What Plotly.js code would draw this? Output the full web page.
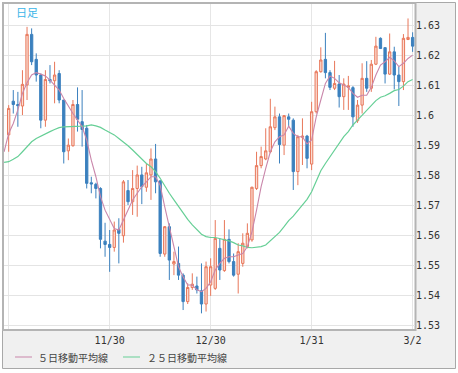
<!DOCTYPE html>
<html>
<head>
<meta charset="utf-8">
<script src="https://cdn.plot.ly/plotly-3.0.1.min.js"></script>
<style>html,body{margin:0;padding:0;background:#fff;}#chart{width:458px;height:373px;}</style>
</head>
<body>
<div id="chart"></div>
<script>
// Daily candles (trading-day index 0 = 10/31 ... 88 = 3/2)
const openP = [1.5935,1.6047,1.6036,1.6031,1.6101,1.6269,1.6186,1.6134,1.5984,1.6119,
1.6115,1.6139,1.6051,1.5882,1.5899,1.6036,1.5979,1.5957,1.5776,1.5771,
1.5757,1.5582,1.5571,1.5561,1.5621,1.5600,1.5750,1.5713,1.5757,1.5802,
1.5761,1.5802,1.5855,1.5782,1.5539,1.5630,1.5506,1.5508,1.5469,1.5381,
1.5428,1.5433,1.5417,1.5373,1.5436,1.5425,1.5558,1.5484,1.5588,1.5514,
1.5472,1.5508,1.5564,1.5586,1.5757,1.5833,1.5855,1.5879,1.5959,1.5995,
1.5901,1.5995,1.5984,1.5813,1.5927,1.5931,1.5838,1.6012,1.6145,1.6186,
1.6142,1.6090,1.6104,1.6062,1.6093,1.6092,1.5982,1.6034,1.6123,1.6090,
1.6170,1.6256,1.6225,1.6137,1.6211,1.6134,1.6112,1.6252,1.6259];
const highP = [1.6034,1.6084,1.6078,1.6150,1.6294,1.6289,1.6206,1.6139,1.6150,1.6167,
1.6178,1.6150,1.6051,1.5923,1.6051,1.6093,1.6084,1.5968,1.5796,1.5776,
1.5761,1.5643,1.5619,1.5647,1.5658,1.5785,1.5785,1.5818,1.5833,1.5829,
1.5840,1.5890,1.5905,1.5785,1.5632,1.5641,1.5547,1.5564,1.5475,1.5442,
1.5475,1.5464,1.5508,1.5514,1.5525,1.5652,1.5591,1.5652,1.5621,1.5541,
1.5575,1.5608,1.5641,1.5763,1.5879,1.5896,1.5957,1.6055,1.6029,1.6006,
1.6001,1.6006,1.5990,1.5935,1.5990,1.5935,1.6045,1.6150,1.6226,1.6274,
1.6150,1.6181,1.6134,1.6123,1.6131,1.6097,1.6051,1.6173,1.6180,1.6184,
1.6261,1.6259,1.6225,1.6272,1.6228,1.6162,1.6270,1.6322,1.6276];
const lowP = [1.5879,1.6006,1.5962,1.6001,1.6051,1.6167,1.6112,1.5957,1.5962,1.6106,
1.6040,1.6040,1.5840,1.5851,1.5896,1.5946,1.5896,1.5757,1.5741,1.5724,
1.5558,1.5530,1.5480,1.5547,1.5508,1.5577,1.5702,1.5669,1.5663,1.5705,
1.5746,1.5719,1.5741,1.5530,1.5530,1.5453,1.5469,1.5453,1.5353,1.5373,
1.5420,1.5408,1.5342,1.5348,1.5400,1.5420,1.5453,1.5480,1.5508,1.5464,
1.5408,1.5497,1.5558,1.5580,1.5752,1.5824,1.5851,1.5874,1.5951,1.5840,
1.5868,1.5962,1.5752,1.5768,1.5835,1.5824,1.5818,1.6006,1.6142,1.6123,
1.6084,1.6084,1.6026,1.6018,1.6018,1.5962,1.5975,1.6006,1.6078,1.6078,
1.6167,1.6222,1.6106,1.6134,1.6086,1.6031,1.6084,1.6250,1.6211];
const closeP = [1.6023,1.6036,1.6032,1.6103,1.6269,1.6178,1.6134,1.5984,1.6119,1.6115,
1.6134,1.6051,1.5879,1.5901,1.6036,1.5987,1.5953,1.5774,1.5772,1.5757,
1.5588,1.5571,1.5561,1.5619,1.5608,1.5779,1.5713,1.5757,1.5802,1.5763,
1.5809,1.5855,1.5779,1.5541,1.5630,1.5519,1.5514,1.5469,1.5381,1.5428,
1.5439,1.5420,1.5373,1.5497,1.5497,1.5591,1.5486,1.5588,1.5514,1.5469,
1.5547,1.5575,1.5608,1.5761,1.5833,1.5863,1.5882,1.5962,1.5995,1.5903,
1.5999,1.5987,1.5813,1.5929,1.5931,1.5857,1.6012,1.6145,1.6184,1.6142,
1.6093,1.6106,1.6062,1.6104,1.6098,1.5995,1.6034,1.6123,1.6090,1.6170,
1.6230,1.6222,1.6137,1.6211,1.6134,1.6112,1.6256,1.6259,1.6230];

// Moving averages (index -1 ... 88)
const ma5 = [1.5879,1.5940,1.5973,1.6018,1.6073,1.6108,1.6134,1.6142,1.6137,1.6131,1.6117,
1.6101,1.6084,1.6056,1.6029,1.6006,1.5984,1.5962,1.5918,1.5851,1.5796,
1.5730,1.5685,1.5652,1.5624,1.5619,1.5652,1.5685,1.5719,1.5741,1.5763,
1.5779,1.5796,1.5796,1.5768,1.5696,1.5630,1.5564,1.5497,1.5464,1.5436,
1.5436,1.5420,1.5414,1.5425,1.5447,1.5486,1.5508,1.5525,1.5530,1.5530,
1.5536,1.5541,1.5564,1.5613,1.5685,1.5763,1.5824,1.5879,1.5912,1.5929,
1.5935,1.5964,1.5940,1.5929,1.5929,1.5905,1.5918,1.5995,1.6051,1.6106,
1.6131,1.6123,1.6108,1.6101,1.6093,1.6073,1.6060,1.6067,1.6067,1.6093,
1.6134,1.6167,1.6178,1.6193,1.6181,1.6162,1.6173,1.6189,1.6200];
const ma25 = [1.5844,1.5846,1.5854,1.5863,1.5879,1.5896,1.5912,1.5923,1.5931,1.5940,1.5946,
1.5953,1.5959,1.5962,1.5962,1.5964,1.5964,1.5964,1.5965,1.5968,1.5965,
1.5960,1.5951,1.5942,1.5935,1.5923,1.5912,1.5899,1.5885,1.5869,1.5856,
1.5840,1.5829,1.5813,1.5791,1.5765,1.5741,1.5719,1.5696,1.5674,1.5654,
1.5636,1.5619,1.5605,1.5597,1.5594,1.5594,1.5591,1.5588,1.5583,1.5577,
1.5569,1.5566,1.5561,1.5560,1.5562,1.5564,1.5569,1.5583,1.5597,1.5611,
1.5630,1.5650,1.5665,1.5685,1.5705,1.5721,1.5746,1.5779,1.5816,1.5840,
1.5863,1.5885,1.5907,1.5929,1.5946,1.5968,1.5984,1.6001,1.6018,1.6034,
1.6049,1.6060,1.6065,1.6073,1.6082,1.6086,1.6097,1.6112,1.6119];

const xTickIdx = [0, 22, 44, 66, 88];
const xTickLabels = ["", "11/30", "12/30", "1/31", "3/2"];
const yTickVals = [1.53,1.54,1.55,1.56,1.57,1.58,1.59,1.60,1.61,1.62,1.63];
const yTickLabels = ["1.53","1.54","1.55","1.56","1.57","1.58","1.59","1.6","1.61","1.62","1.63"];
const seriesNames = ["５日移動平均線", "２５日移動平均線"];
const periodLabel = "日足";

const dayIndex = openP.map((_, i) => i);
const maIndex = ma5.map((_, i) => i - 1);

// pixel helpers for paper placement
const L = 4, R = 415, T = 4, B = 329;
const px = v => (v - L) / (R - L);
const py = v => (B - v) / (B - T);

const traces = [
  {
    type: 'candlestick', x: dayIndex, open: openP, high: highP, low: lowP, close: closeP,
    increasing: { line: { color: '#e8775a', width: 1 }, fillcolor: '#fbdcd2' },
    decreasing: { line: { color: '#3b80be', width: 1 }, fillcolor: '#3b80be' },
    whiskerwidth: 0, hoverinfo: 'skip', showlegend: false
  },
  { type: 'scatter', mode: 'lines', x: maIndex, y: ma25, name: seriesNames[1],
    line: { color: '#66cf96', width: 1.2 }, hoverinfo: 'skip', showlegend: false },
  { type: 'scatter', mode: 'lines', x: maIndex, y: ma5, name: seriesNames[0],
    line: { color: '#c986aa', width: 1.1 }, hoverinfo: 'skip', showlegend: false }
];

const tickFont = { family: 'DejaVu Sans Mono, monospace', size: 10, color: '#333' };
const cjkFont = { family: 'Noto Sans CJK JP', size: 10, color: '#444' };

const layout = {
  width: 458, height: 373,
  margin: { l: L, r: 458 - R, t: T, b: 373 - B, pad: 0 },
  paper_bgcolor: '#ffffff', plot_bgcolor: 'rgba(0,0,0,0)',
  showlegend: false, boxgap: 0.28,
  xaxis: {
    range: [-1.02, 88.52], tickmode: 'array', tickvals: xTickIdx, ticktext: xTickLabels,
    showgrid: true, gridcolor: '#e6e6e6', gridwidth: 1, zeroline: false, showline: false,
    ticks: '', ticklabelstandoff: 4, tickfont: tickFont, rangeslider: { visible: false }, fixedrange: true
  },
  yaxis: {
    side: 'right', range: [1.5290, 1.6370], tickmode: 'array', tickvals: yTickVals, ticktext: yTickLabels,
    showgrid: true, gridcolor: '#e4e4e4', gridwidth: 1, zeroline: false, showline: false,
    ticks: '', tickfont: tickFont, fixedrange: true
  },
  shapes: [
    { type: 'rect', xref: 'paper', yref: 'paper', layer: 'below',
      x0: px(2.5), x1: px(455.5), y0: py(368.5), y1: py(2.5),
      fillcolor: '#f0f0f0', line: { color: '#a8a8a8', width: 1 } },
    { type: 'rect', xref: 'paper', yref: 'paper', layer: 'below',
      x0: px(3), x1: px(415.5), y0: py(330), y1: py(3),
      fillcolor: '#ffffff', line: { color: '#b4b4b4', width: 2 } },
    { type: 'line', xref: 'paper', yref: 'paper', x0: px(15), x1: px(32), y0: py(357), y1: py(357),
      line: { color: '#c986aa', width: 1 } },
    { type: 'line', xref: 'paper', yref: 'paper', x0: px(123), x1: px(140), y0: py(357), y1: py(357),
      line: { color: '#66cf96', width: 1 } }
  ],
  annotations: [
    { xref: 'paper', yref: 'paper', x: px(14), y: py(12), xanchor: 'left', yanchor: 'middle',
      text: periodLabel, showarrow: false, font: { family: 'Noto Sans CJK JP', size: 11, color: '#3bb5e8' } },
    { xref: 'paper', yref: 'paper', x: px(36), y: py(357), xanchor: 'left', yanchor: 'middle',
      text: seriesNames[0], showarrow: false, font: cjkFont },
    { xref: 'paper', yref: 'paper', x: px(145), y: py(357), xanchor: 'left', yanchor: 'middle',
      text: seriesNames[1], showarrow: false, font: cjkFont }
  ]
};

Plotly.newPlot('chart', traces, layout, { displayModeBar: false, staticPlot: true });
</script>
</body>
</html>
